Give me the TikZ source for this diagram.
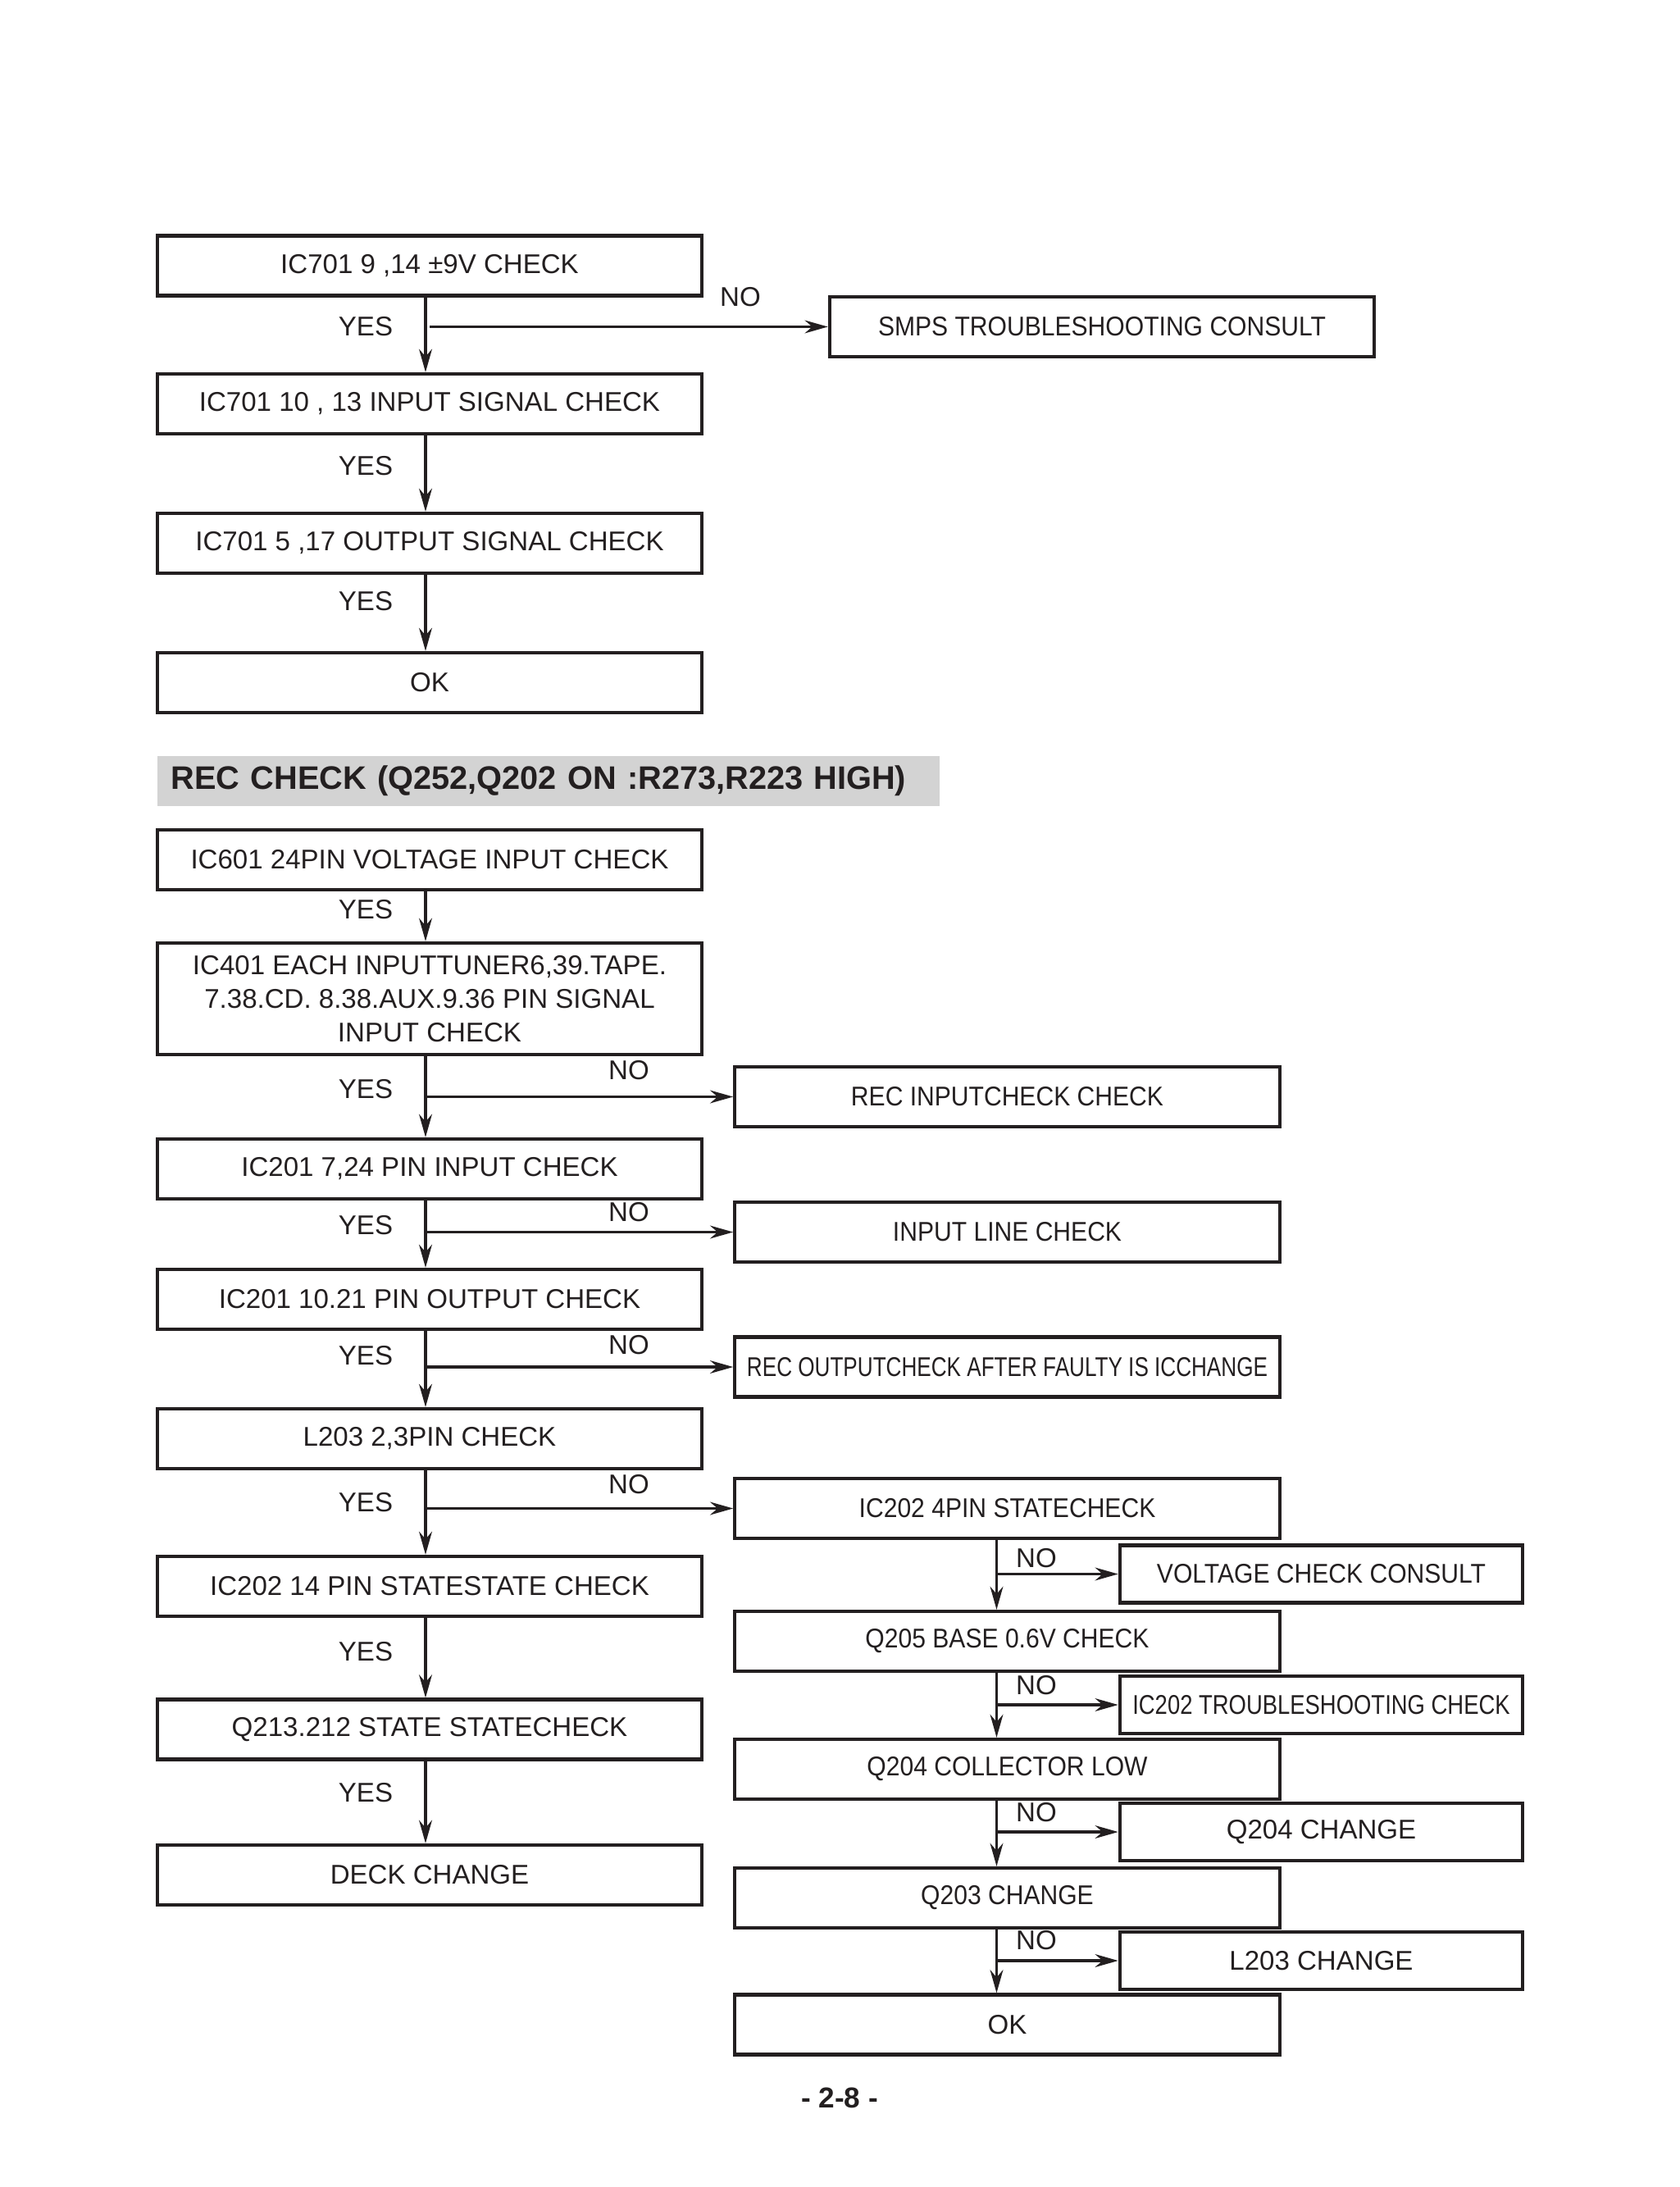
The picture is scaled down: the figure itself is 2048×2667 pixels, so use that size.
\documentclass[tikz,border=0pt]{standalone}
\usepackage{fontspec}
\setmainfont{Liberation Sans}
\newfontfamily\condfont[FakeStretch=0.91]{Liberation Sans}
\newfontfamily\troublefont[FakeStretch=0.83]{Liberation Sans}
\newfontfamily\tightfont[FakeStretch=0.79]{Liberation Sans}
\usetikzlibrary{arrows.meta}
\definecolor{ink}{HTML}{231F20}
\definecolor{bandgray}{HTML}{D3D3D3}
\tikzset{
  box/.style={draw=ink, line width=1.2pt, minimum width=6.64cm, minimum height=0.73cm,
    inner sep=0pt, text=ink, font=\fontsize{9.4}{11.6}\selectfont},
  sidebox/.style={box, minimum width=4.91cm, minimum height=0.70cm},
  flow/.style={draw=ink, line width=0.9pt, -{Stealth[length=8pt,width=4.5pt]}},
  tag/.style={text=ink, inner sep=0pt, font=\fontsize{9.4}{11.6}\selectfont},
}

\begin{document}
\begin{tikzpicture}[x=0.01cm, y=-0.01cm]
\useasboundingbox (0,0) rectangle (2048,2667);

\foreach \n/\y/\t in {t1/324/{IC701 9 ,14 ±9V CHECK}, t2/492.5/{IC701 10 , 13 INPUT SIGNAL CHECK},
    t3/662.5/{IC701 5 ,17 OUTPUT SIGNAL CHECK}, t4/832.5/{OK}}
  \node[box] (\n) at (524,\y) {\t};
\node[box] (smps) at (1344,398.5) {\condfont SMPS TROUBLESHOOTING CONSULT};

\foreach \a/\b in {t1/t2, t2/t3, t3/t4}
  \draw[flow] ([xshift=-0.05cm]\a.south) -- ([xshift=-0.05cm]\b.north);
\draw[flow, shorten <=1.5pt] ([xshift=-0.05cm]t1.south |- smps) -- (smps);

\node[anchor=west, fill=bandgray, minimum height=0.57cm, text width=9.2cm, inner xsep=0.17cm,
  align=left, text=ink, font=\bfseries\fontsize{11.3}{13}\selectfont] (title) at (191,952.5)
  {REC CHECK (Q252,Q202 ON :R273,R223 HIGH)};

\node[box] (b1) at (524,1048.5) {IC601 24PIN VOLTAGE INPUT CHECK};
\node[box, minimum height=1.36cm, align=center] (b2) at (524,1218)
  {IC401 EACH INPUTTUNER6,39.TAPE.\\7.38.CD. 8.38.AUX.9.36 PIN SIGNAL\\INPUT CHECK};
\foreach \n/\y/\t in {b3/1425.5/{IC201 7,24 PIN INPUT CHECK}, b4/1584.5/{IC201 10.21 PIN OUTPUT CHECK},
    b5/1754.5/{L203 2,3PIN CHECK}, b6/1934.5/{IC202 14 PIN STATESTATE CHECK},
    b7/2109/{Q213.212 STATE STATECHECK}, b8/2286.5/{DECK CHANGE}}
  \node[box] (\n) at (524,\y) {\t};

\node[box] (r1) at (1228.5,1337.5) {\condfont REC INPUTCHECK CHECK};
\node[box] (r2) at (1228.5,1502.5) {\condfont INPUT LINE CHECK};
\node[box] (r3) at (1228.5,1667) {\tightfont REC OUTPUTCHECK AFTER FAULTY IS ICCHANGE};
\node[box] (r4) at (1228.5,1839.5) {\condfont IC202 4PIN STATECHECK};
\node[box] (r5) at (1228.5,2001.5) {\condfont Q205 BASE 0.6V CHECK};
\node[box] (r6) at (1228.5,2157.5) {\condfont Q204 COLLECTOR LOW};
\node[box] (r7) at (1228.5,2314.5) {\condfont Q203 CHANGE};
\node[box] (r8) at (1228.5,2469) {OK};

\node[sidebox] (s1) at (1611.5,1919.5) {\condfont VOLTAGE CHECK CONSULT};
\node[sidebox] (s2) at (1611.5,2079) {\troublefont IC202 TROUBLESHOOTING CHECK};
\node[sidebox] (s3) at (1611.5,2234) {Q204 CHANGE};
\node[sidebox] (s4) at (1611.5,2391) {L203 CHANGE};

\foreach \a/\b in {b1/b2, b2/b3, b3/b4, b4/b5, b5/b6, b6/b7, b7/b8}
  \draw[flow] ([xshift=-0.05cm]\a.south) -- ([xshift=-0.05cm]\b.north);
\foreach \a/\b in {b2/r1, b3/r2, b4/r3, b5/r4}
  \draw[flow] ([xshift=-0.05cm]\a.south |- \b) -- (\b);

\foreach \n in {4,...,7}
  \coordinate (k\n) at ([xshift=-0.13cm]r\n.south);
\foreach \n/\m/\s in {4/5/1, 5/6/2, 6/7/3, 7/8/4} {
  \draw[flow] (k\n) -- (k\n |- r\m.north);
  \draw[flow] (k\n |- s\s) -- (s\s);
}

\foreach \y [count=\i] in {398,568,733,1109,1328,1494,1653,1832,2014,2186}
  \node[tag] (yes\i) at (446,\y) {YES};
\node[tag] (no0) at (903,362) {NO};
\foreach \y [count=\i] in {1305,1478,1640,1810}
  \node[tag] (no\i) at (767,\y) {NO};
\foreach \y [count=\i from 5] in {1900,2055,2210,2366}
  \node[tag] (no\i) at (1264,\y) {NO};

\node[text=ink, font=\bfseries\fontsize{10}{12}\selectfont] (page) at (1024,2558) {- 2-8 -};
\end{tikzpicture}
\end{document}
